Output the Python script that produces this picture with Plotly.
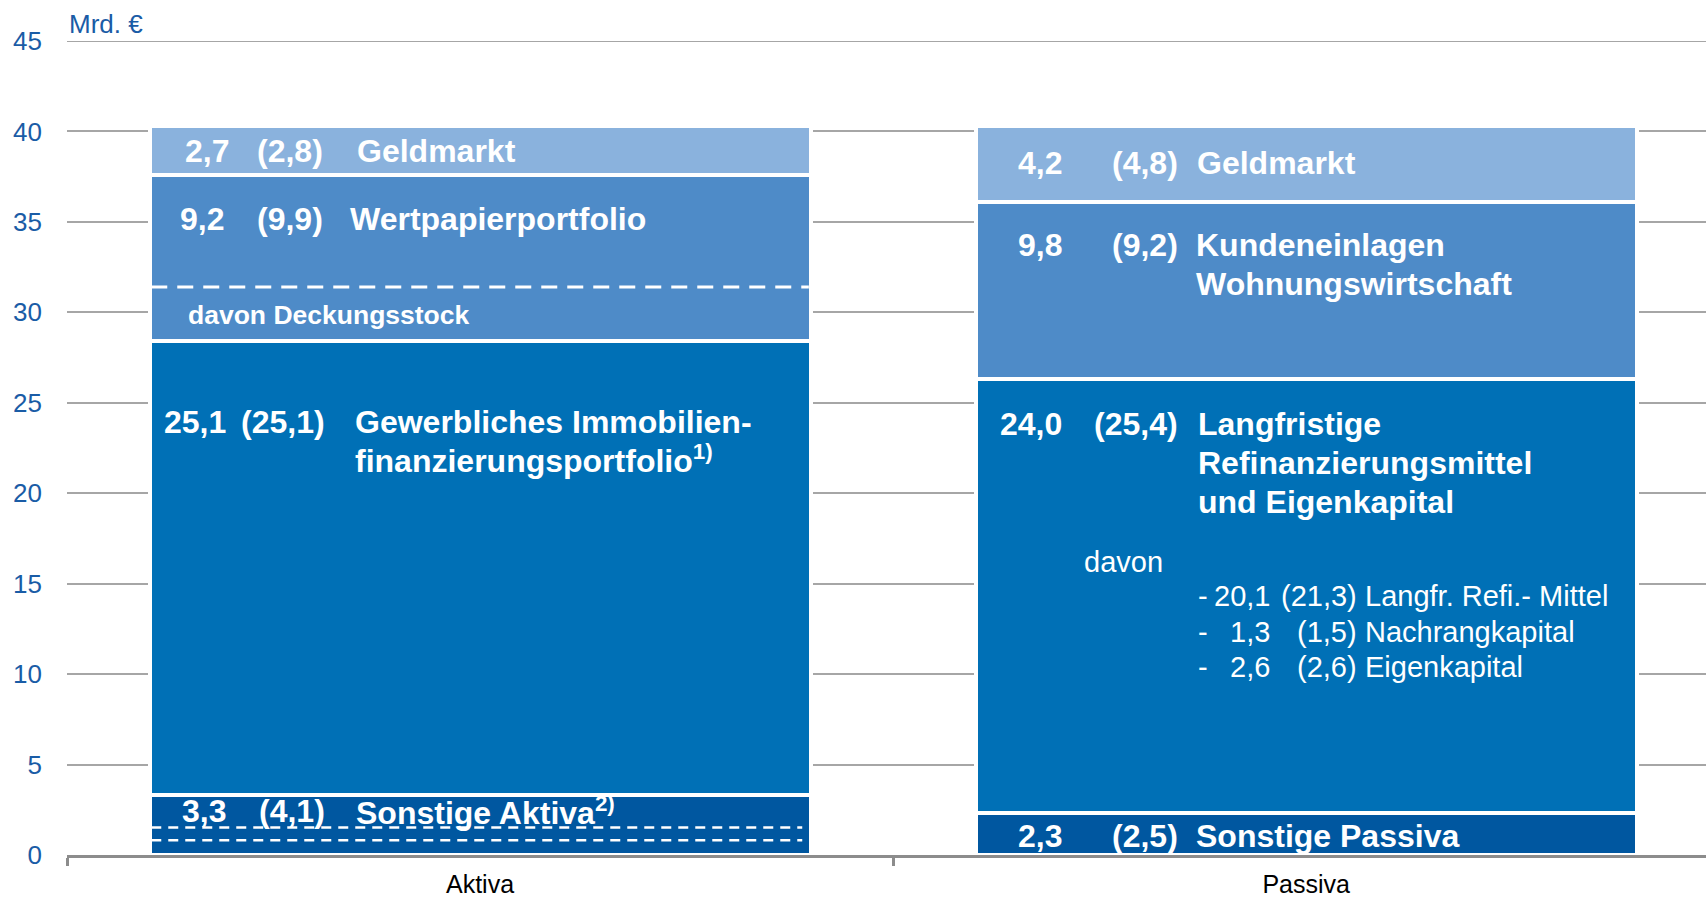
import plotly.graph_objects as go

# ---------------- data ----------------
categories = ["Aktiva", "Passiva"]

aktiva_values = [3.3, 25.1, 9.2, 2.7]
aktiva_prior = [4.1, 25.1, 9.9, 2.8]
aktiva_labels = [
    ["Sonstige Aktiva<sup>2)</sup>"],
    ["Gewerbliches Immobilien-", "finanzierungsportfolio<sup>1)</sup>"],
    ["Wertpapierportfolio"],
    ["Geldmarkt"],
]

passiva_values = [2.3, 24.0, 9.8, 4.2]
passiva_prior = [2.5, 25.4, 9.2, 4.8]
passiva_labels = [
    ["Sonstige Passiva"],
    ["Langfristige", "Refinanzierungsmittel", "und Eigenkapital"],
    ["Kundeneinlagen", "Wohnungswirtschaft"],
    ["Geldmarkt"],
]

davon_names = ["Langfr. Refi.- Mittel", "Nachrangkapital", "Eigenkapital"]
davon_values = [20.1, 1.3, 2.6]
davon_prior = [21.3, 1.5, 2.6]

deckungsstock_label = "davon Deckungsstock"
deckungsstock_value = 3.0          # lower part of the Wertpapierportfolio
sonstige_dash_levels = [1.52, 0.81]  # dashed sub-lines inside Sonstige Aktiva

y_ticks = [0, 5, 10, 15, 20, 25, 30, 35, 40, 45]
y_max = 45
unit_label = "Mrd. €"

# ---------------- style ----------------
seg_colors = ["#0057A0", "#0070B6", "#4E8BC8", "#8AB2DD"]
FONT = "Liberation Sans, Arial, sans-serif"
BLUE_TXT = "#1A5CA6"
GRID = "#A6A6A6"
BIG = 32
SMALL = 29
DL = -0.0036   # nudge for left-anchored texts
DR = 0.0024    # nudge for right-anchored texts


def de(v):
    return f"{v:.1f}".replace(".", ",")


fig = go.Figure()
for i in range(4):
    fig.add_trace(go.Bar(
        x=[0, 1],
        y=[aktiva_values[i], passiva_values[i]],
        width=0.8,
        marker=dict(color=seg_colors[i], line=dict(color="white", width=4)),
        hoverinfo="skip",
        showlegend=False,
    ))

ann = []


def txt(x, y, s, anchor="left", size=BIG, bold=True):
    ann.append(dict(
        x=x + (DL if anchor == "left" else DR), y=y, xref="x", yref="y",
        text=s, showarrow=False,
        xanchor=anchor, yanchor="middle",
        font=dict(family=FONT, size=size, color="white",
                  weight="bold" if bold else "normal"),
    ))


# Aktiva text rows (y of first line, num right, prior right, label left)
akt_pos = [
    (2.46, -0.3073, -0.1876, -0.1494),
    (23.94, -0.3073, -0.1876, -0.1507),
    (35.16, -0.3100, -0.1902, -0.1560),
    (38.94, -0.3033, -0.1902, -0.1480),
]
for i, (yy, xn, xp, xl) in enumerate(akt_pos):
    txt(xn, yy, de(aktiva_values[i]), "right")
    txt(xp, yy, f"({de(aktiva_prior[i])})", "right")
    for k, line in enumerate(aktiva_labels[i]):
        txt(xl, yy - k * 2.04, line, "left")

# Passiva text rows
pas_pos = [
    (1.04, 0.7046, 0.8454, 0.8680),
    (23.80, 0.7046, 0.8454, 0.8705),
    (33.74, 0.7046, 0.8454, 0.8680),
    (38.28, 0.7046, 0.8454, 0.8692),
]
for i, (yy, xn, xp, xl) in enumerate(pas_pos):
    txt(xn, yy, de(passiva_values[i]), "right")
    txt(xp, yy, f"({de(passiva_prior[i])})", "right")
    for k, line in enumerate(passiva_labels[i]):
        txt(xl, yy - k * 2.15, line, "left")

# Deckungsstock
deck_line = aktiva_values[0] + aktiva_values[1] + deckungsstock_value
txt(-0.3520, 29.88, deckungsstock_label, "left", size=26.5)

# davon list
txt(0.7322, 16.22, "davon", "left", size=SMALL, bold=False)
for k in range(3):
    yy = 14.30 - k * 1.96
    txt(0.8705, yy, "-", "left", size=SMALL, bold=False)
    txt(0.9560, yy, de(davon_values[k]), "right", size=SMALL, bold=False)
    txt(1.0612, yy, f"({de(davon_prior[k])})", "right", size=SMALL, bold=False)
    txt(1.0725, yy, davon_names[k], "left", size=SMALL, bold=False)

# unit label
ann.append(dict(x=0, y=1, xref="paper", yref="paper", text=unit_label,
                showarrow=False, xanchor="left", yanchor="middle", yshift=17,
                font=dict(family=FONT, size=26, color=BLUE_TXT)))

shapes = [
    # top gridline (at the edge of the axis range)
    dict(type="line", xref="paper", yref="y", x0=0, x1=1, y0=y_max, y1=y_max,
         line=dict(color=GRID, width=2), layer="below"),
    dict(type="line", xref="x", yref="y", x0=-0.398, x1=0.398,
         y0=deck_line, y1=deck_line,
         line=dict(color="white", width=3, dash="16px,10px")),
]
for lv in sonstige_dash_levels:
    shapes.append(dict(type="line", xref="x", yref="y", x0=-0.398, x1=0.39,
                       y0=lv, y1=lv,
                       line=dict(color="white", width=2.5, dash="10px,7px")))

fig.update_layout(
    barmode="stack",
    width=1706, height=898,
    margin=dict(l=67, r=0, t=41, b=43),
    plot_bgcolor="white", paper_bgcolor="white",
    annotations=ann, shapes=shapes,
    xaxis=dict(
        range=[-0.5, 1.484], tickvals=[0, 1], ticktext=categories,
        ticks="", showgrid=False, zeroline=False, automargin=False,
        showline=True, linecolor="#8C8C8C", linewidth=3,
        tickfont=dict(family=FONT, size=25, color="black"),
        ticklabelstandoff=5,
        minor=dict(tickvals=[-0.5, 0.5], ticks="outside", ticklen=8,
                   tickwidth=3, tickcolor="#8C8C8C", showgrid=False),
    ),
    yaxis=dict(
        range=[0, y_max], tickvals=y_ticks, ticks="", automargin=False,
        showgrid=True, gridcolor=GRID, gridwidth=2, zeroline=False,
        tickfont=dict(family=FONT, size=26, color=BLUE_TXT),
        ticklabelstandoff=24,
    ),
)

fig.write_html("out.html",
               config={"displayModeBar": False},
               post_script="document.body.style.margin='0';"
                           "document.body.style.overflow='hidden';")
